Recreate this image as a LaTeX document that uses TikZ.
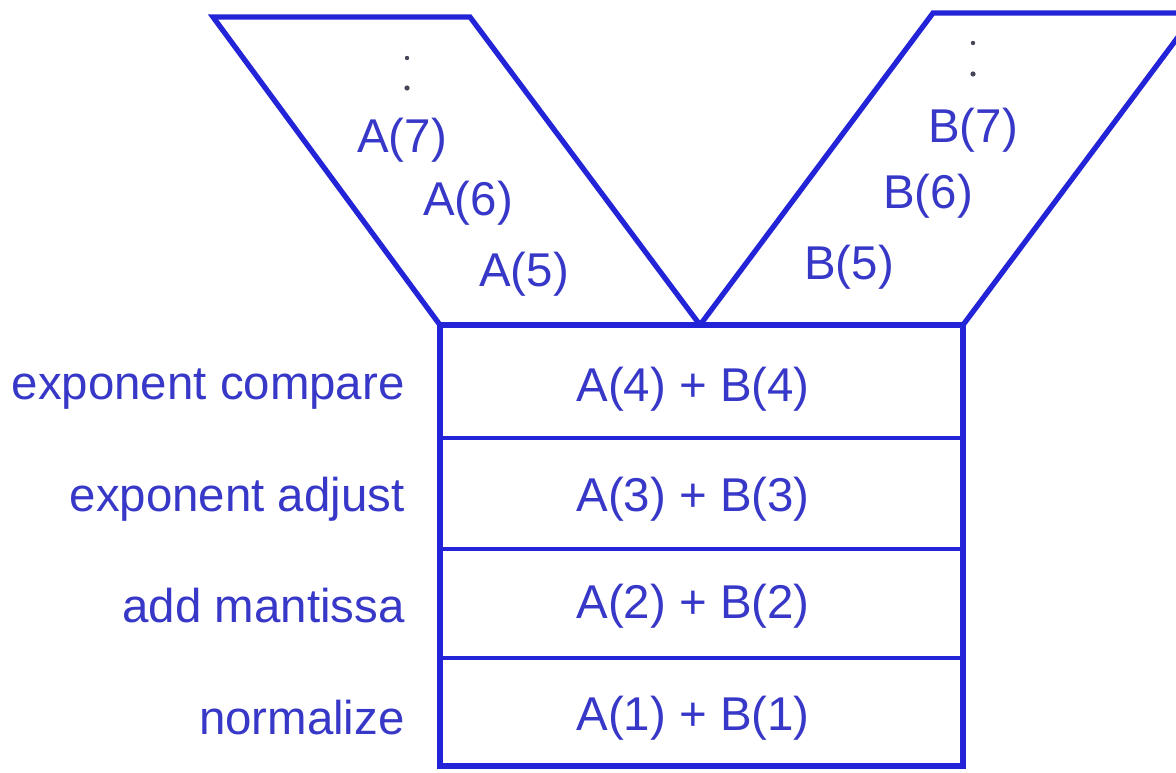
\documentclass[tikz,border=0pt]{standalone}
\usepackage{fontspec}
\setmainfont{Liberation Sans}
\definecolor{lineblue}{RGB}{35,35,215}
\definecolor{textblue}{RGB}{55,55,200}
\definecolor{dotgray}{RGB}{70,70,90}
\tikzset{
  outline/.style={draw=lineblue, line width=3pt, line join=miter},
  divider/.style={draw=lineblue, line width=2.5pt},
  lbl/.style={text=textblue, font=\fontsize{27}{30}\selectfont, inner sep=0pt},
  dotmark/.style={fill=dotgray, draw=none},
}
\begin{document}
\begin{tikzpicture}[x=0.02cm,y=-0.02cm]
\useasboundingbox (0,0) rectangle (1176,773);
\clip (0,0) rectangle (1176,773);
% corner coordinates
\coordinate (LTL) at (213,17);
\coordinate (LTR) at (470,17);
\coordinate (BL) at (440,325);
\coordinate (BM) at (700,325);
\coordinate (BR) at (963,325);
\coordinate (RTL) at (933,13);
\coordinate (RTR) at (1196,13);
\coordinate (BBL) at (440,766);
\coordinate (BBR) at (963,766);
% hoppers
\draw[outline] (BL) -- (LTL) -- (LTR) -- (BM);
\draw[outline] (BM) -- (RTL) -- (RTR) -- (BR);
% pipeline box
\draw[outline] (BL) -- (BR) -- (BBR) -- (BBL) -- cycle;
\coordinate (D1L) at (440,438); \coordinate (D1R) at (963,438);
\coordinate (D2L) at (440,549); \coordinate (D2R) at (963,549);
\coordinate (D3L) at (440,658); \coordinate (D3R) at (963,658);
\draw[divider] (D1L) -- (D1R);
\draw[divider] (D2L) -- (D2R);
\draw[divider] (D3L) -- (D3R);
% dots
\fill[dotmark] (407,58) circle (2.2);
\fill[dotmark] (407,88) circle (2.6);
\fill[dotmark] (973,43) circle (2.2);
\fill[dotmark] (973,74) circle (2.6);
% queue items
\node[lbl] (a7) at (402,140) {A(7)};
\node[lbl] (a6) at (468,203) {A(6)};
\node[lbl] (a5) at (524,274) {A(5)};
\node[lbl] (b7) at (973,130) {B(7)};
\node[lbl] (b6) at (928,196) {B(6)};
\node[lbl] (b5) at (849,267) {B(5)};
% stages
\node[lbl] (s4) at (693,389) {A(4) + B(4)};
\node[lbl] (s3) at (693,499) {A(3) + B(3)};
\node[lbl] (s2) at (693,606) {A(2) + B(2)};
\node[lbl] (s1) at (693,718) {A(1) + B(1)};
% stage names
\node[lbl, anchor=east] (n4) at (405,389) {exponent compare};
\node[lbl, anchor=east] (n3) at (405,499) {exponent adjust};
\node[lbl, anchor=east] (n2) at (405,606) {add mantissa};
\node[lbl, anchor=east] (n1) at (405,718) {normalize};
\end{tikzpicture}
\end{document}
